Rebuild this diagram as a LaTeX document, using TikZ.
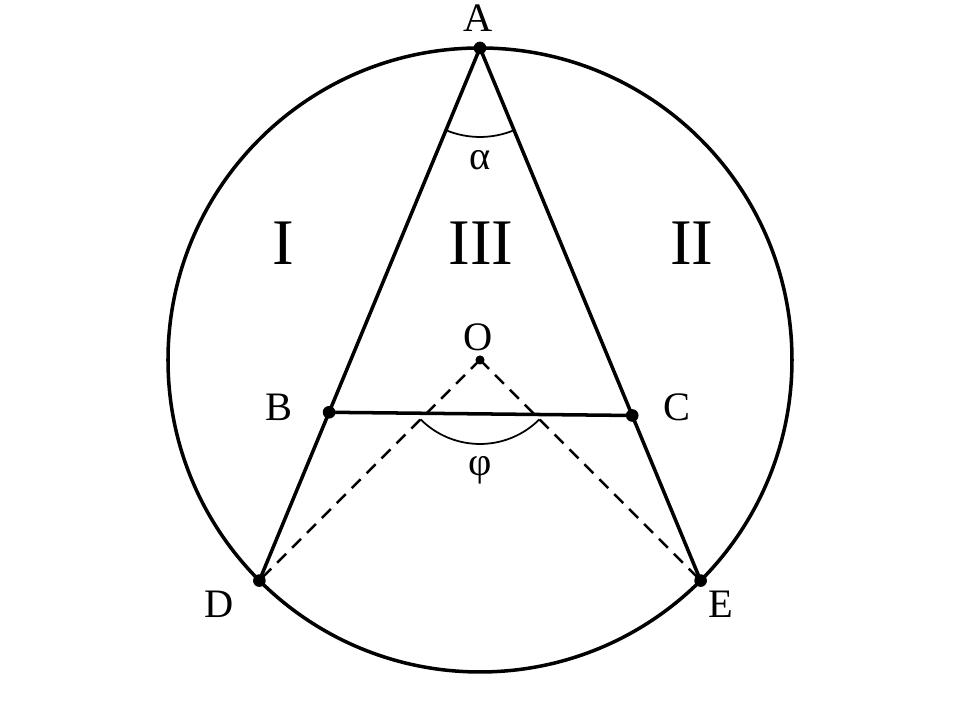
\documentclass[tikz,border=0pt]{standalone}
\usepackage{fontspec}
\setmainfont{Liberation Serif}
\usetikzlibrary{calc}

\begin{document}
\begin{tikzpicture}[
    line width=1pt,
    lbl/.style={font=\fontsize{11.5}{13}\selectfont, inner sep=1pt},
    region/.style={font=\fontsize{18.5}{20}\selectfont, inner sep=1pt},
    chord/.style={line width=0.7pt, dash pattern=on 3.6pt off 2.4pt},
    anglearc/.style={line width=0.5pt}
]
\useasboundingbox (0,0) rectangle (9.6,7.2);

% circle and points on it
\coordinate (O) at (4.80, 3.60);
\draw (O) circle (3.12);
\coordinate (A) at ($(O)+(90:3.12)$);
\coordinate (D) at ($(O)+(225:3.12)$);
\coordinate (E) at ($(O)+(-45:3.12)$);
\coordinate (B) at ($(A)!0.684!(D)$);
\coordinate (C) at ($(A)!0.69!(E)$);

% triangle sides and chord BC
\draw (A) -- (D);
\draw (A) -- (E);
\draw (B) -- (C);

% dashed radii
\draw[chord] (O) -- (D);
\draw[chord] (O) -- (E);

% angles
\draw[anglearc] ($(A)+(247.5:0.89)$) arc (247.5:292.5:0.89);
\draw[anglearc] ($(O)+(225:0.84)$) arc (225:315:0.84);

% dots
\foreach \p in {A,B,C,D,E}
    \fill (\p) circle (1.8pt);
\fill (O) circle (1.3pt);

% labels
\node[lbl] (lA) at (4.78, 7.02) {A};
\node[lbl] (lO) at (4.78, 3.83) {O};
\node[lbl] (lB) at (2.79, 3.13) {B};
\node[lbl] (lC) at (6.77, 3.13) {C};
\node[lbl] (lD) at (2.19, 1.16) {D};
\node[lbl] (lE) at (7.21, 1.16) {E};
\node[lbl] (alpha) at (4.80, 5.60) {α};
\node[lbl] (phi) at (4.80, 2.50) {φ};

% regions
\node[region] (r1) at (2.83, 4.77) {I};
\node[region] (r3) at (4.81, 4.77) {III};
\node[region] (r2) at (6.92, 4.77) {II};

\end{tikzpicture}
\end{document}
